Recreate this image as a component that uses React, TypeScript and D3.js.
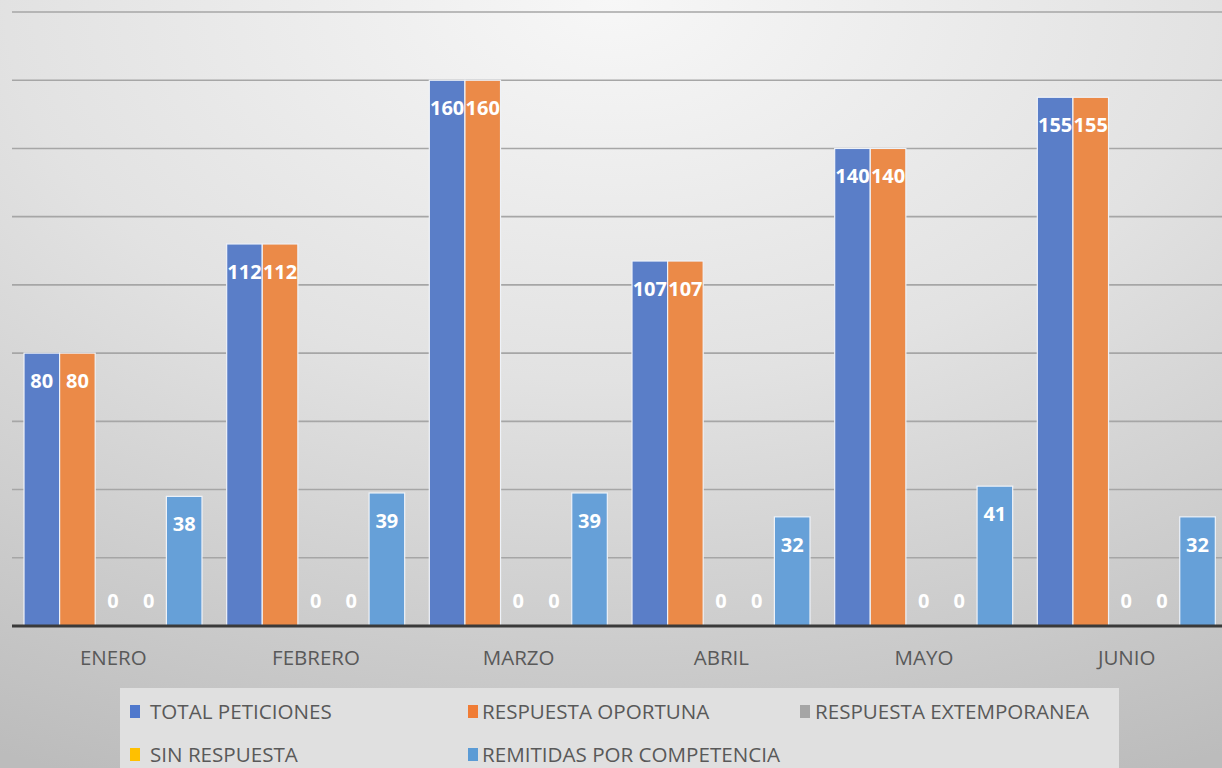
import React from "react";
import * as d3 from "d3";

const months = ["ENERO", "FEBRERO", "MARZO", "ABRIL", "MAYO", "JUNIO"];
const seriesNames = [
  "TOTAL PETICIONES",
  "RESPUESTA OPORTUNA",
  "RESPUESTA EXTEMPORANEA",
  "SIN RESPUESTA",
  "REMITIDAS POR COMPETENCIA",
];
const totalPeticiones = [80, 112, 160, 107, 140, 155];
const respuestaOportuna = [80, 112, 160, 107, 140, 155];
const respuestaExtemporanea = [0, 0, 0, 0, 0, 0];
const sinRespuesta = [0, 0, 0, 0, 0, 0];
const remitidas = [38, 39, 39, 32, 41, 32];
const gridTicks = [0, 20, 40, 60, 80, 100, 120, 140, 160, 180];

const seriesValues = [totalPeticiones, respuestaOportuna, respuestaExtemporanea, sinRespuesta, remitidas];
const colors = ["#5a7ec8", "#eb8a48", "#a5a5a5", "#ffc000", "#66a0d8"];
const legendColors = ["#4f78cc", "#f07c35", "#a5a5a5", "#ffc000", "#5b9bd5"];

const W = 1222;
const H = 768;

export default function App() {
  const x0 = d3.scaleBand<string>().domain(months).range([12, 1228]).padding(0);
  const x1 = d3.scaleBand<string>().domain(seriesNames).range([12, 190]).padding(0);
  const y = d3.scaleLinear().domain([0, 180]).range([626, 12]);
  const font = "'Open Sans', sans-serif";

  const legendPos = [
    { mx: 130, tx: 150, y: 719 },
    { mx: 468, tx: 482, y: 719 },
    { mx: 800, tx: 815, y: 719 },
    { mx: 130, tx: 150, y: 762 },
    { mx: 468, tx: 482, y: 762 },
  ];

  return (
    <svg
      width={W}
      height={H}
      style={{ position: "absolute", left: 0, top: 0, display: "block" }}
    >
      <defs>
        <radialGradient id="bg" cx="50%" cy="0%" r="110%" fx="50%" fy="0%">
          <stop offset="0%" stopColor="#f7f7f7" />
          <stop offset="45%" stopColor="#e2e2e2" />
          <stop offset="100%" stopColor="#bcbcbc" />
        </radialGradient>
      </defs>
      <rect x={0} y={0} width={W} height={H} fill="url(#bg)" />

      {gridTicks.slice(1).map((t) => (
        <line
          key={t}
          x1={12}
          x2={W}
          y1={y(t)}
          y2={y(t)}
          stroke="#a6a6a6"
          strokeWidth={1.6}
        />
      ))}

      {months.map((m, i) => (
        <g key={m}>
          {seriesNames.map((s, j) => {
            const v = seriesValues[j][i];
            const bx = (x0(m) as number) + (x1(s) as number);
            const bw = x1.bandwidth();
            const top = y(v);
            const labelY = Math.min(top + 35, y(0) - 18);
            return (
              <g key={s}>
                {v > 0 && (
                  <rect
                    x={bx}
                    y={top}
                    width={bw}
                    height={y(0) - top}
                    fill={colors[j]}
                    stroke="#eef2f8"
                    strokeWidth={1.2}
                  />
                )}
                <text
                  x={bx + bw / 2}
                  y={labelY}
                  textAnchor="middle"
                  fill="#ffffff"
                  fontFamily={font}
                  fontWeight={700}
                  fontSize={20}
                >
                  {v}
                </text>
              </g>
            );
          })}
          <text
            x={(x0(m) as number) + x0.bandwidth() / 2}
            y={665}
            textAnchor="middle"
            fill="#595959"
            fontFamily={font}
            fontSize={20.5}
          >
            {m}
          </text>
        </g>
      ))}

      <line x1={12} x2={W} y1={y(0)} y2={y(0)} stroke="#3a3a3a" strokeWidth={3} />

      <rect x={120} y={688} width={999} height={90} fill="#e0e0e0" />
      {seriesNames.map((s, j) => (
        <g key={s}>
          <rect
            x={legendPos[j].mx}
            y={legendPos[j].y - 14}
            width={10}
            height={13}
            fill={legendColors[j]}
          />
          <text
            x={legendPos[j].tx}
            y={legendPos[j].y}
            fill="#595959"
            fontFamily={font}
            fontSize={20.6}
          >
            {s}
          </text>
        </g>
      ))}
    </svg>
  );
}
